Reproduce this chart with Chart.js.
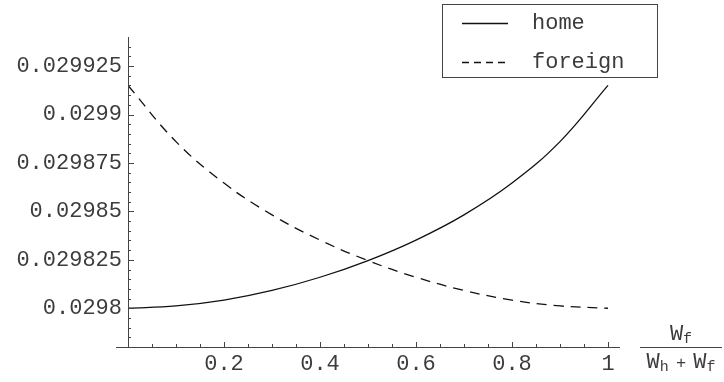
<!DOCTYPE html>
<html>
<head>
<meta charset="utf-8">
<script src="https://cdn.jsdelivr.net/npm/chart.js@4.4.1/dist/chart.umd.min.js"></script>
<style>
html, body { margin: 0; padding: 0; background: #fff; }
#wrap { width: 724px; height: 382px; }
</style>
</head>
<body>
<div id="wrap"><canvas id="chartShare" width="724" height="382"></canvas></div>
<script>
// share of foreign wealth  W_f / (W_h + W_f)
var shareValues   = [0, 0.1, 0.2, 0.3, 0.4, 0.5, 0.6, 0.7, 0.8, 0.9, 1];
var homeValues    = [0.0298000, 0.0298012, 0.0298042, 0.0298092, 0.0298160, 0.0298246,
                     0.0298352, 0.0298482, 0.0298646, 0.0298860, 0.0299150];
var foreignValues = [0.0299150, 0.0298860, 0.0298646, 0.0298482, 0.0298352, 0.0298246,
                     0.0298160, 0.0298092, 0.0298042, 0.0298012, 0.0298000];
var seriesNames   = ['home', 'foreign'];
var xTickValues   = [0.2, 0.4, 0.6, 0.8, 1];
var yTickValues   = [0.0298, 0.029825, 0.02985, 0.029875, 0.0299, 0.029925];
var xMinorStep = 0.05, yMinorStep = 0.000005;
var xRange = [0, 1.025], xAxisStart = -0.025;
var yRange = [0.02978, 0.02994];

var monoFont = "'Liberation Mono', 'DejaVu Sans Mono', monospace";
var inkColor = '#3c3c3c';

Chart.defaults.font.family = monoFont;
Chart.defaults.font.size = 22;
Chart.defaults.color = inkColor;

function toPoints(xs, ys) {
    var pts = [];
    for (var i = 0; i < xs.length; i++) {
        pts.push({ x: xs[i], y: ys[i] });
    }
    return pts;
}

// mathematica style axes: lines crossing at x = 0, ticks pointing inward
var mathAxes = {
    id: 'mathAxes',
    afterDraw: function(chart) {
        var ctx = chart.ctx;
        var xs = chart.scales.x, ys = chart.scales.y;
        var x0 = xs.getPixelForValue(0);
        var yb = ys.getPixelForValue(yRange[0]);
        var yt = ys.getPixelForValue(yRange[1]);
        ctx.save();
        ctx.strokeStyle = '#444';
        ctx.lineWidth = 1;

        // axis lines
        ctx.beginPath();
        ctx.moveTo(xs.getPixelForValue(xAxisStart), yb + 0.5);
        ctx.lineTo(xs.getPixelForValue(xRange[1]), yb + 0.5);
        ctx.moveTo(x0 + 0.5, yb);
        ctx.lineTo(x0 + 0.5, yt);
        ctx.stroke();

        // x ticks
        ctx.beginPath();
        for (var v = xMinorStep; v <= 1 + 1e-9; v += xMinorStep) {
            var isMajor = Math.abs(v / 0.2 - Math.round(v / 0.2)) < 1e-6;
            var px = Math.round(xs.getPixelForValue(v)) + 0.5;
            ctx.moveTo(px, yb);
            ctx.lineTo(px, yb - (isMajor ? 5 : 3));
        }
        // y ticks
        for (var k = 1; yRange[0] + k * yMinorStep < yRange[1]; k++) {
            var val = yRange[0] + k * yMinorStep;
            var isMaj = k % 5 === 4;
            var py = Math.round(ys.getPixelForValue(val)) + 0.5;
            ctx.moveTo(x0, py);
            ctx.lineTo(x0 + (isMaj ? 6 : 3), py);
        }
        ctx.stroke();

        // axis label as a fraction
        var cx = chart.width - 43;
        ctx.fillStyle = inkColor;
        ctx.textBaseline = 'alphabetic';
        ctx.beginPath();
        ctx.moveTo(cx - 41, yb + 0.5);
        ctx.lineTo(cx + 41, yb + 0.5);
        ctx.stroke();
        drawSubbed(ctx, [['W', 22], ['f', 15]], cx, yb - 7);
        drawSubbed(ctx, [['W', 22], ['h', 15], [' + ', 17], ['W', 22], ['f', 15]], cx, yb + 21);

        // legend
        var lx = chart.width - 282, ly = 4, lw = 215, lh = 73;
        ctx.strokeRect(lx + 0.5, ly + 0.5, lw, lh);
        chart.data.datasets.forEach(function(ds, i) {
            var rowY = ly + 19 + i * 39;
            ctx.save();
            ctx.strokeStyle = ds.borderColor;
            ctx.lineWidth = ds.borderWidth;
            ctx.setLineDash(ds.borderDash ? [7, 5] : []);
            ctx.beginPath();
            ctx.moveTo(lx + 20, rowY + 0.5);
            ctx.lineTo(lx + 66, rowY + 0.5);
            ctx.stroke();
            ctx.restore();
            ctx.font = '22px ' + monoFont;
            ctx.textBaseline = 'middle';
            ctx.textAlign = 'left';
            ctx.fillText(ds.label, lx + 90, rowY);
        });
        ctx.restore();
    }
};

function drawSubbed(ctx, parts, cx, baseY) {
    var total = 0, widths = [];
    parts.forEach(function(p) {
        ctx.font = p[1] + 'px ' + monoFont;
        var w = ctx.measureText(p[0]).width;
        if (p[0] === ' + ') w = w * 0.8;
        widths.push(w);
        total += w;
    });
    var x = cx - total / 2;
    ctx.textAlign = 'left';
    parts.forEach(function(p, i) {
        ctx.font = p[1] + 'px ' + monoFont;
        var dy = p[1] < 20 && p[0] !== ' + ' ? 3 : 0;
        if (p[0] === ' + ') {
            ctx.fillText('+', x + widths[i] / 2 - ctx.measureText('+').width / 2, baseY);
        } else {
            ctx.fillText(p[0], x, baseY + dy);
        }
        x += widths[i];
    });
}

var ctx = document.getElementById('chartShare');
var myShareChart = new Chart(ctx, {
    type: 'line',
    data: {
        datasets: [{
            label: seriesNames[0],
            data: toPoints(shareValues, homeValues),
            borderColor: '#111',
            borderWidth: 1.3,
            pointRadius: 0,
            tension: 0.4,
            fill: false
        }, {
            label: seriesNames[1],
            data: toPoints(shareValues, foreignValues),
            borderColor: '#111',
            borderWidth: 1.3,
            borderDash: [10, 7],
            pointRadius: 0,
            tension: 0.4,
            fill: false
        }]
    },
    options: {
        responsive: false,
        animation: false,
        layout: { padding: { top: 37, right: 104, bottom: 0, left: 0 } },
        plugins: {
            legend: { display: false },
            tooltip: { enabled: false }
        },
        scales: {
            x: {
                type: 'linear',
                min: xRange[0],
                max: xRange[1],
                grid: { display: false, drawTicks: false },
                border: { display: false },
                afterBuildTicks: function(scale) {
                    scale.ticks = xTickValues.map(function(v) { return { value: v }; });
                },
                afterFit: function(scale) { scale.height = 35; },
                ticks: {
                    padding: 4,
                    maxRotation: 0,
                    autoSkip: false,
                    callback: function(v) { return String(v); }
                }
            },
            y: {
                type: 'linear',
                min: yRange[0],
                max: yRange[1],
                grid: { display: false, drawTicks: false },
                border: { display: false },
                afterBuildTicks: function(scale) {
                    scale.ticks = yTickValues.map(function(v) { return { value: v }; });
                },
                afterFit: function(scale) { scale.width = 128; },
                ticks: {
                    padding: 6,
                    autoSkip: false,
                    callback: function(v) { return String(v); }
                }
            }
        }
    },
    plugins: [mathAxes]
});
</script>
</body>
</html>
